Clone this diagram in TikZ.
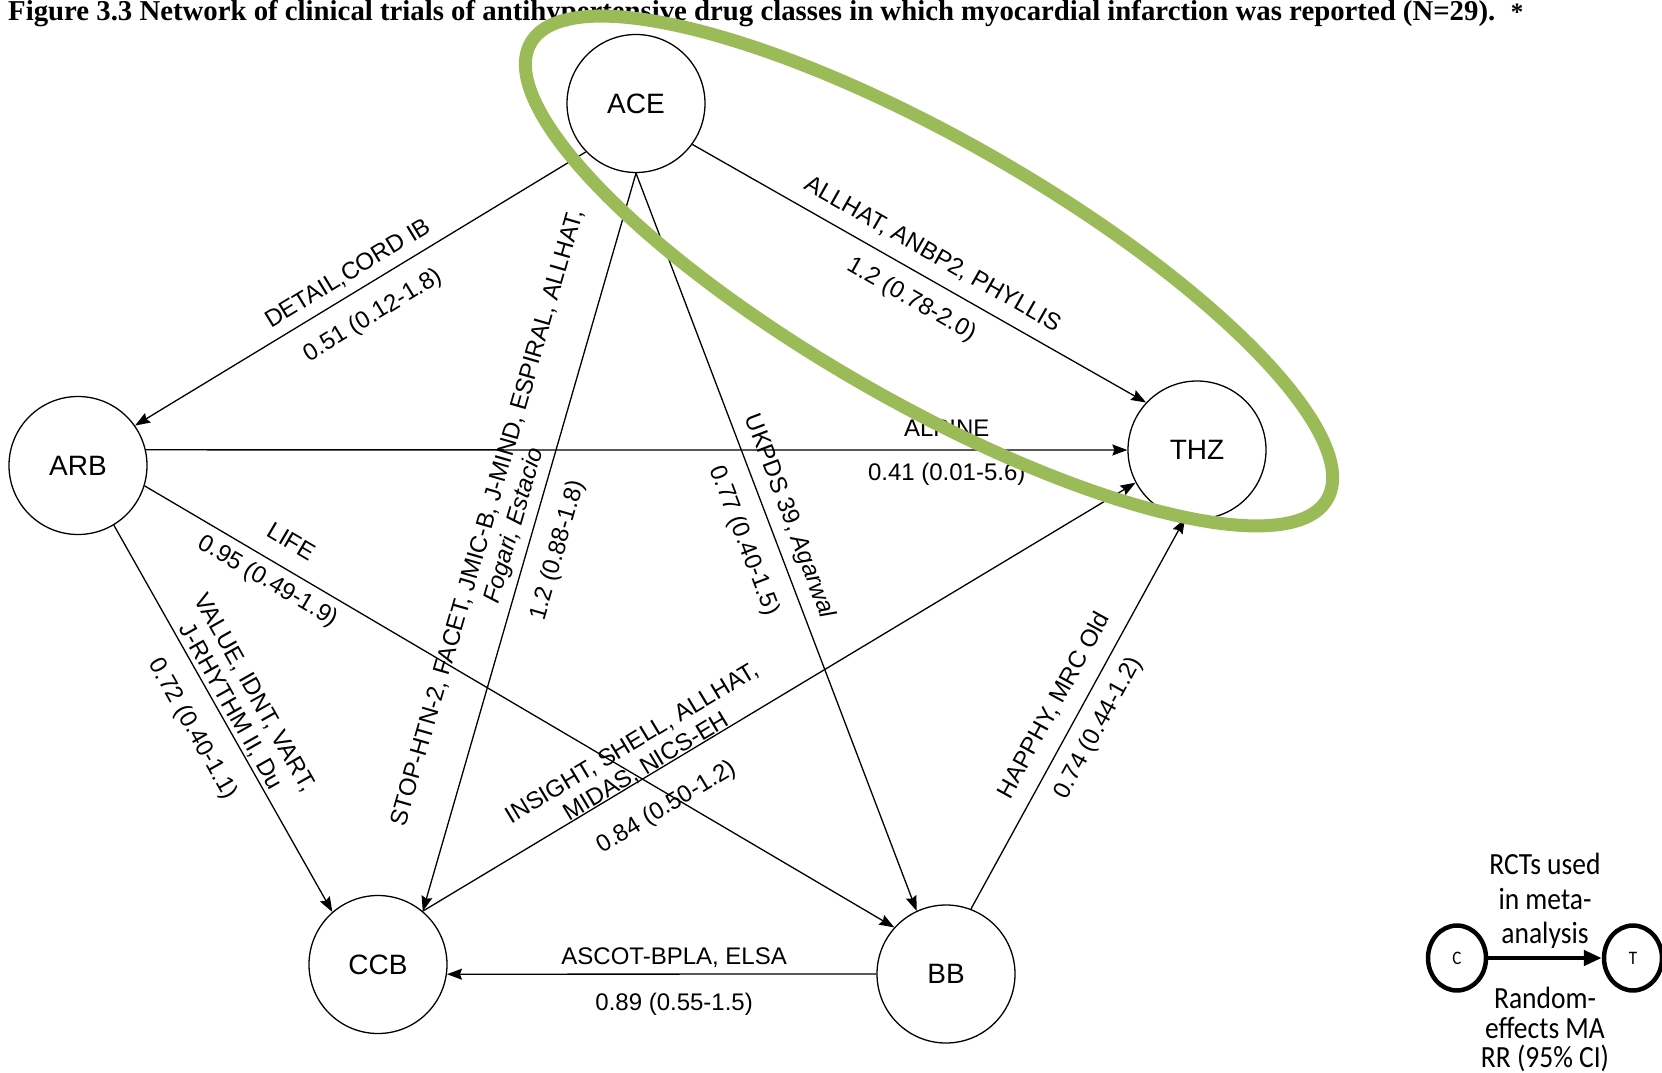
\documentclass[tikz,border=0pt]{standalone}
\usepackage{graphicx}
\usepackage{fontspec}
\setmainfont{Liberation Sans}
\newfontfamily\titlefont{Liberation Serif}
\newfontfamily\legendfont{Carlito}
\usetikzlibrary{arrows.meta}
\definecolor{ringgreen}{HTML}{9BBB59}
\begin{document}
\begin{tikzpicture}[x=1pt, y=-1pt,
  drug/.style={draw, circle, line width=1.3pt, minimum size=138pt, inner sep=0pt,
    font=\fontsize{28}{32}\selectfont},
  trial/.style={line width=1.3pt, -{Stealth[length=15pt, width=11pt, inset=2pt]}},
  lab/.style={sloped, inner sep=0pt, align=center, font=\fontsize{24}{27.5}\selectfont},
  keynode/.style={draw, circle, line width=4.5pt, minimum size=58pt, inner sep=0pt,
    font=\legendfont\fontsize{17}{20}\selectfont},
  keytext/.style={inner sep=0pt, align=center, font=\legendfont\fontsize{27.5}{31}\selectfont},
  ring/.style={draw=ringgreen, line width=13pt}
]
\useasboundingbox (0,0) rectangle (1662,1073);

% caption
\node[anchor=base west, inner sep=0pt] (title) at (8,21)
  {\resizebox{1487pt}{!}{\titlefont\bfseries Figure 3.3 Network of clinical trials of antihypertensive drug classes in which myocardial infarction was reported (N=29).}};
\node[anchor=base, inner sep=0pt] (star) at (1517,21) {\titlefont\bfseries\fontsize{25}{30}\selectfont *};

% drug classes
\node[drug] (ace) at (636,103.5) {ACE};
\node[drug] (arb) at (78,465.5) {ARB};
\node[drug] (thz) at (1197,450) {THZ};
\node[drug] (ccb) at (378,964.5) {CCB};
\node[drug] (bb)  at (946,974) {BB};

% comparisons
\draw[trial] (ace.224) --
  node[lab, pos=0.505, yshift=19pt] {DETAIL,CORD IB}
  node[lab, pos=0.506, yshift=-30pt] {0.51 (0.12-1.8)} (arb.35);
\draw[trial] (ace.324) --
  node[lab, pos=0.504, yshift=23pt] {ALLHAT, ANBP2, PHYLLIS}
  node[lab, pos=0.512, yshift=-27pt] {1.2 (0.78-2.0)} (thz.137);
\draw[trial] (ace.270) --
  node[lab, pos=0.485, yshift=32pt] {STOP-HTN-2, FACET, JMIC-B, J-MIND, ESPIRAL, ALLHAT,\\ \textit{Fogari, Estacio}}
  node[lab, pos=0.5, yshift=-30pt] {1.2 (0.88-1.8)} (ccb.50);
\draw[trial] (ace.270) --
  node[lab, pos=0.476, yshift=21pt] {UKPDS 39, \textit{Agarwal}}
  node[lab, pos=0.484, yshift=-30pt] {0.77 (0.40-1.5)} (bb.115.5);
\draw[trial] (arb.13) --
  node[lab, pos=0.816, yshift=22pt] {ALPINE}
  node[lab, pos=0.816, yshift=-24pt] {0.41 (0.01-5.6)} (thz.west);
\draw[trial] (arb.343) --
  node[lab, pos=0.178, yshift=27pt] {LIFE}
  node[lab, pos=0.178, yshift=-20pt] {0.95 (0.49-1.9)} (bb.138);
\draw[trial] (arb.301) --
  node[lab, pos=0.485, yshift=26pt] {VALUE, IDNT, VART,\\ J-RHYTHM II, Du}
  node[lab, pos=0.487, yshift=-32pt] {0.72 (0.40-1.1)} (ccb.131.5);
\draw[trial] (bb.69) --
  node[lab, pos=0.49, yshift=25pt] {HAPPHY, MRC Old}
  node[lab, pos=0.494, yshift=-25pt] {0.74 (0.44-1.2)} (thz.260.5);
\draw[trial] (ccb.50) --
  node[lab, pos=0.32, yshift=22pt] {INSIGHT, SHELL, ALLHAT,\\ MIDAS, NICS-EH}
  node[lab, pos=0.316, yshift=-37pt] {0.84 (0.50-1.2)} (thz.208);
\draw[trial] (bb.west) --
  node[lab, pos=0.471, yshift=16pt] {ASCOT-BPLA, ELSA}
  node[lab, pos=0.471, yshift=-30pt] {0.89 (0.55-1.5)} (ccb.-8);

% key
\begin{scope}[shift={(1545,958)}, yscale=1.12, transform shape]
  \node[keynode] (kc) at (-88,0) {C};
  \node[keynode] (kt) at (88,0) {T};
  \draw[line width=4.5pt, -{Triangle[length=18pt, width=15pt]}] (kc) -- (kt);
  \node[keytext] (ktop) at (0,-51) {RCTs used\\ in meta-\\ analysis};
  \node[keytext, font=\legendfont\fontsize{27.5}{26.5}\selectfont] (kbot) at (0,64) {Random-\\ effects MA\\ RR (95\% CI)};
\end{scope}

% highlighted pair
\draw[ring, rotate around={-29.8:(929,271)}] (929,271) ellipse [x radius=459pt, y radius=131pt];
\end{tikzpicture}
\end{document}
